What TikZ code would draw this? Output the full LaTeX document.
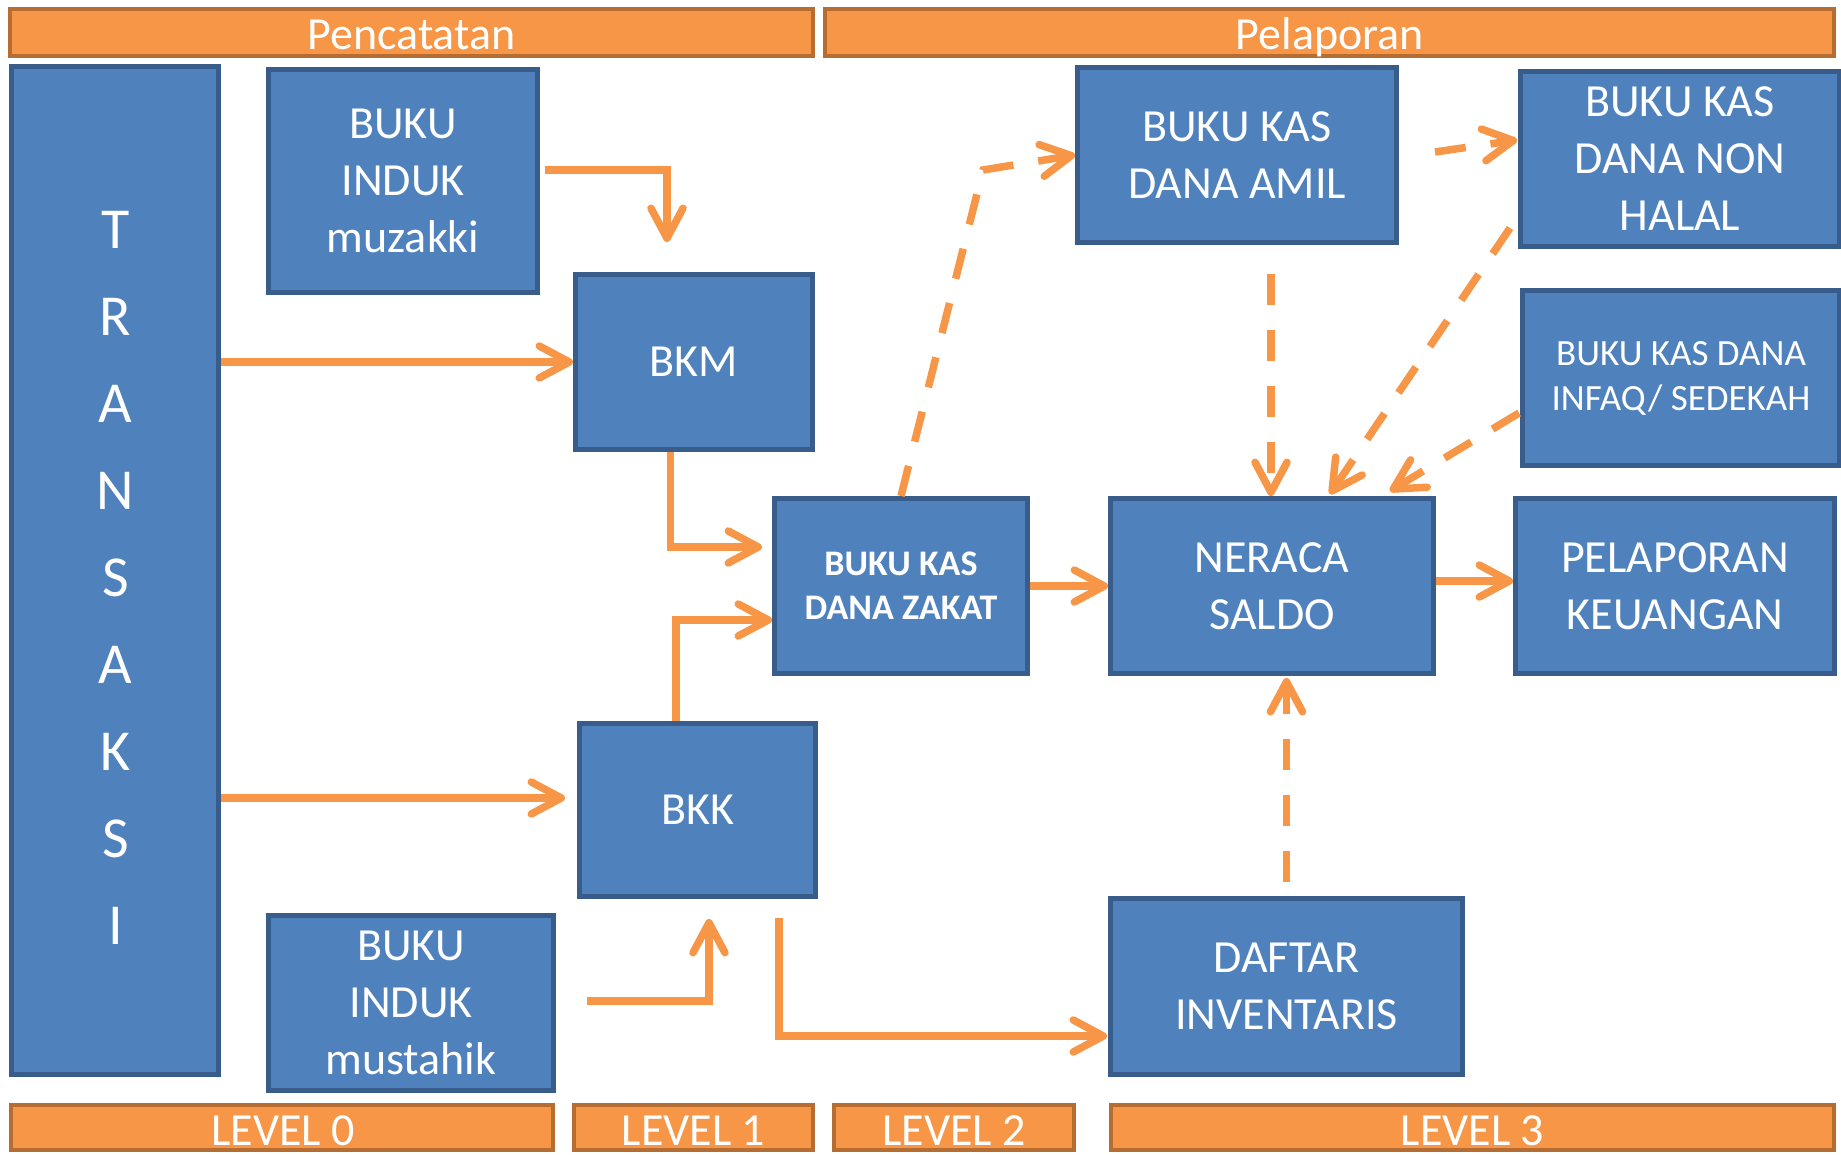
\documentclass[tikz,border=0pt]{standalone}
\usepackage{fontspec}
\setmainfont{Carlito}
\usetikzlibrary{arrows.meta,calc}
\definecolor{bfill}{HTML}{4F81BD}
\definecolor{bline}{HTML}{385D8A}
\definecolor{ofill}{HTML}{F79646}
\definecolor{oline}{HTML}{B66D31}
\definecolor{arr}{HTML}{F79646}
\begin{document}
\begin{tikzpicture}[x=1pt,y=-1pt,
 blk/.style={draw=bline, fill=bfill, line width=5pt, text=white, align=center, inner sep=0pt, font=\fontsize{46}{57}\selectfont},
 bar/.style={draw=oline, fill=ofill, line width=4pt, inner sep=0pt},
 bartext/.style={text=white, anchor=base, font=\fontsize{46}{57}\selectfont, inner sep=0pt},
 flow/.style={draw=arr, line width=7.5pt, line join=miter, -{Straight Barb[length=30pt,width=32pt,round]}},
 dflow/.style={flow, dash pattern=on 31pt off 25pt},
]
\useasboundingbox (0,0) rectangle (1841,1154);
\fill[white] (0,0) rectangle (1841,1154);

% header and footer bars
\node[bar, minimum width=803pt, minimum height=47pt] (top1) at (411.5,32.5) {};
\node[bar, minimum width=1009pt, minimum height=47pt] (top2) at (1329.5,32.5) {};
\node[bar, minimum width=542pt, minimum height=45pt] (lv0) at (282,1127.5) {};
\node[bar, minimum width=239pt, minimum height=45pt] (lv1) at (693.5,1127.5) {};
\node[bar, minimum width=240pt, minimum height=45pt] (lv2) at (954,1127.5) {};
\node[bar, minimum width=723pt, minimum height=45pt] (lv3) at (1472.5,1127.5) {};
\node[bartext] (t1) at (411.5,49) {Pencatatan};
\node[bartext] (t2) at (1330,49) {Pelaporan};
\node[bartext] (l0) at (283,1145) {LEVEL 0};
\node[bartext] (l1) at (693.5,1145) {LEVEL 1};
\node[bartext] (l2) at (954,1145) {LEVEL 2};
\node[bartext] (l3) at (1472.5,1145) {LEVEL 3};

% boxes
\node[blk, minimum width=207pt, minimum height=1008pt] (trans) at (115,570.5) {};
\node[text=white, align=center, inner sep=0pt, font=\fontsize{58}{87}\selectfont] (transtext) at (115.5,578) {T\\R\\A\\N\\S\\A\\K\\S\\I};
\node[blk, minimum width=269pt, minimum height=223pt] (muz) at (403,180.5) {BUKU\\INDUK\\muzakki};
\node[blk, minimum width=237pt, minimum height=175pt] (bkm) at (694,362) {BKM};
\node[blk, minimum width=253pt, minimum height=175pt, font=\fontsize{36}{44}\selectfont\bfseries] (zakat) at (901,586) {BUKU KAS\\DANA ZAKAT};
\node[blk, minimum width=236pt, minimum height=173pt] (bkk) at (697.5,810) {BKK};
\node[blk, minimum width=285pt, minimum height=175pt] (must) at (411,1003) {BUKU\\INDUK\\mustahik};
\node[blk, minimum width=319pt, minimum height=175pt] (amil) at (1237,155) {BUKU KAS\\DANA AMIL};
\node[blk, minimum width=319pt, minimum height=175pt] (nonhalal) at (1680,159) {BUKU KAS\\DANA NON\\HALAL};
\node[blk, minimum width=317pt, minimum height=175pt, font=\fontsize{37}{45}\selectfont] (infaq) at (1681,378) {BUKU KAS DANA\\INFAQ/ SEDEKAH};
\node[blk, minimum width=323pt, minimum height=175pt] (neraca) at (1272,586) {NERACA\\SALDO};
\node[blk, minimum width=319pt, minimum height=175pt] (pelap) at (1675,586) {PELAPORAN\\KEUANGAN};
\node[blk, minimum width=352pt, minimum height=176pt] (daftar) at (1286.5,986.5) {DAFTAR\\INVENTARIS};

% free ends
\coordinate (a1e) at ($(bkm.north)+(-27,-30)$);
\coordinate (a5e) at ($(bkk.west)+(-12,-12)$);
\coordinate (d1c) at ($(amil.west)+(-92,15)$);

% solid arrows
\draw[flow] ($(muz.east)+(5,-10.5)$) -| (a1e);
\draw[flow] (trans.east |- bkm.west) -- (bkm.west);
\draw[flow] (trans.east |- a5e) -- (a5e);
\draw[flow] ($(bkm.south)+(-23.5,0)$) |- ($(zakat.west)+(-10,-39)$);
\draw[flow] ($(bkk.north)+(-21.5,0)$) |- ($(zakat.west)+(0,34)$);
\draw[flow] ($(must.east)+(31,-2)$) -| ($(bkk.south)+(11.5,20)$);
\draw[flow] ($(bkk.south)+(81.5,19)$) |- ($(daftar.west)+(-1,49.5)$);
\draw[flow] (zakat.east) -- (neraca.west);
\draw[flow] ($(neraca.east)+(0,-5)$) -- ($(pelap.west)+(0,-5)$);

% dashed arrows
\draw[dflow] (zakat.north) -- (d1c) -- (amil.west);
\draw[dflow] ($(amil.east)+(36,-3)$) -- ($(nonhalal.west)+(-1,-19)$);
\draw[dflow] ($(amil.south)+(34,29)$) -- ($(neraca.north)+(-1,0)$);
\draw[dflow] ($(nonhalal.south west)+(-8,-21)$) -- ($(neraca.north)+(58,-2)$);
\draw[dflow] ($(infaq.west)+(-1,35)$) -- ($(neraca.north)+(118,-5)$);
\draw[dflow] ($(daftar.north)+(0,-14)$) -- ($(neraca.south)+(14.5,2)$);
\end{tikzpicture}
\end{document}
